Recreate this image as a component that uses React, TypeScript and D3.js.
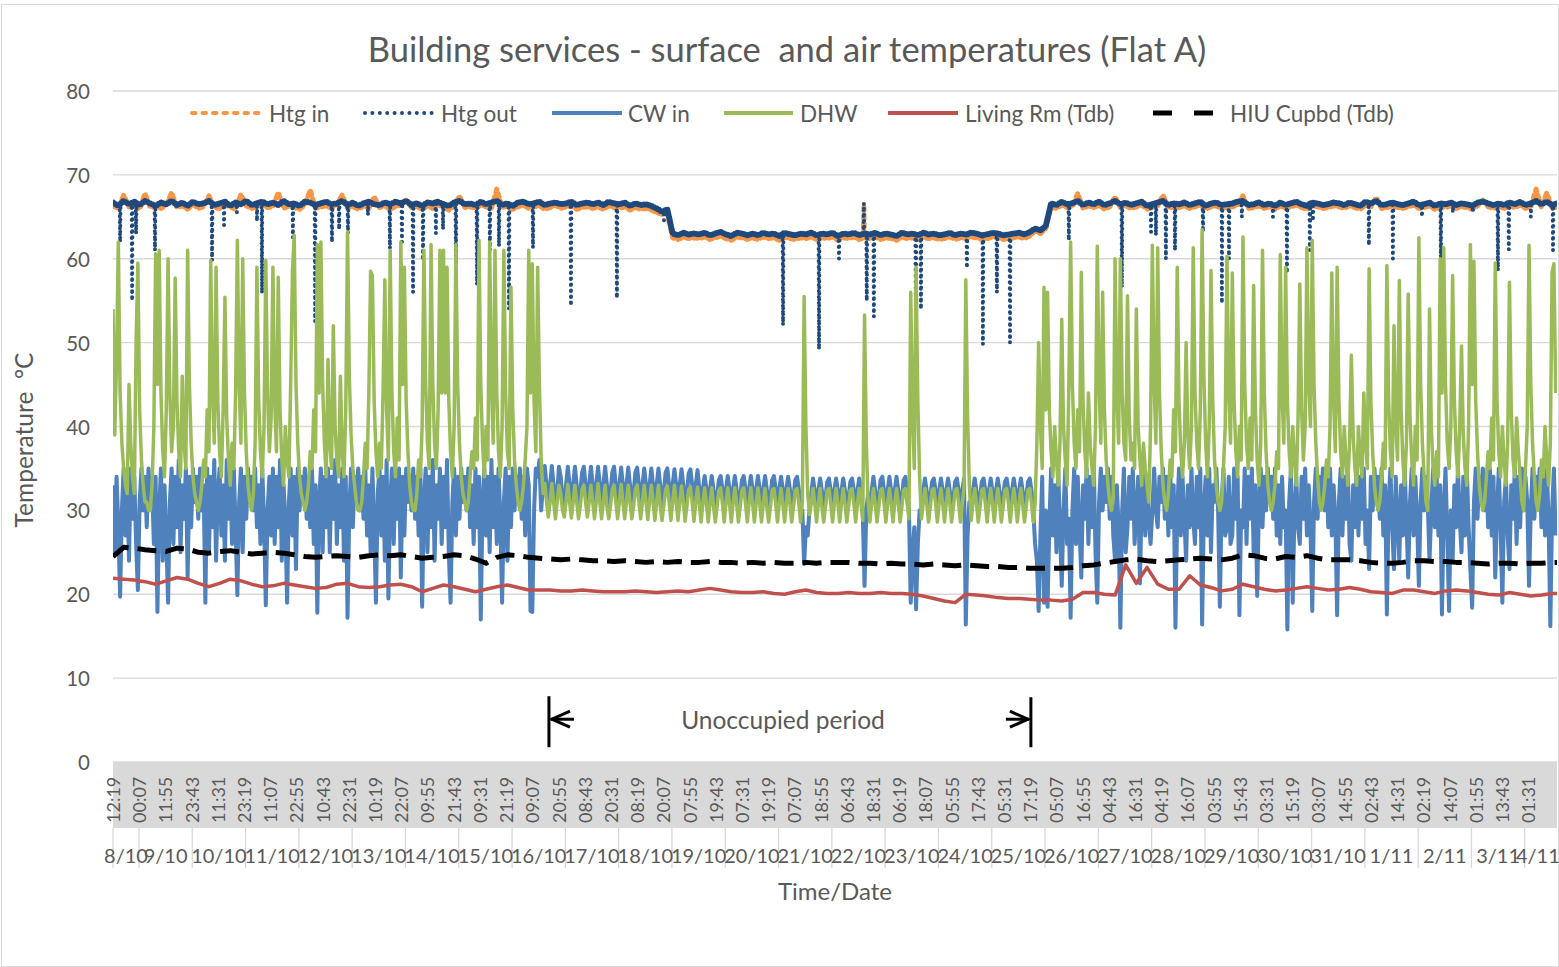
import React from 'react';
import * as d3 from 'd3';

// ---------- layout constants ----------
const W = 1559;
const H = 967;
const PLOT_LEFT = 113;
const PLOT_RIGHT = 1557;
const PLOT_TOP = 91;
const PLOT_BOTTOM = 762;

// ---------- time axis (hours after 8/10 12:19) ----------
const HOURS_SPAN = 650.2;
const FAST_STEP = 0.8; // CW in, DHW sample step (h)
const HTG_STEP = 2.4; // heating flow/return sample step (h)
const ROOM_STEP = 4.8; // air temperature sample step (h)
const TIME_LABEL_STEP = 11.8;
const FIRST_MIDNIGHT = 11.683;

const timeLabels = [
  '12:19', '00:07', '11:55', '23:43', '11:31', '23:19', '11:07', '22:55', '10:43', '22:31',
  '10:19', '22:07', '09:55', '21:43', '09:31', '21:19', '09:07', '20:55', '08:43', '20:31',
  '08:19', '20:07', '07:55', '19:43', '07:31', '19:19', '07:07', '18:55', '06:43', '18:31',
  '06:19', '18:07', '05:55', '17:43', '05:31', '17:19', '05:07', '16:55', '04:43', '16:31',
  '04:19', '16:07', '03:55', '15:43', '03:31', '15:19', '03:07', '14:55', '02:43', '14:31',
  '02:19', '14:07', '01:55', '13:43', '01:31',
];

const dateLabels = [
  '8/10', '9/10', '10/10', '11/10', '12/10', '13/10', '14/10', '15/10', '16/10', '17/10',
  '18/10', '19/10', '20/10', '21/10', '22/10', '23/10', '24/10', '25/10', '26/10', '27/10',
  '28/10', '29/10', '30/10', '31/10', '1/11', '2/11', '3/11', '4/11',
];

const yTicks = [0, 10, 20, 30, 40, 50, 60, 70, 80];

// ---------- series ----------
const htgIn = [
  66.3, 66.0, 67.6, 66.2, 66.4, 65.9, 67.8, 66.1, 66.3, 66.0,
  66.4, 67.9, 66.1, 66.3, 65.9, 66.5, 66.0, 66.2, 67.5, 66.1,
  66.0, 66.4, 66.2, 65.9, 67.7, 66.3, 66.0, 66.2, 66.5, 66.1,
  66.2, 67.9, 66.0, 66.3, 66.1, 65.9, 66.4, 68.2, 66.0, 66.2,
  66.3, 66.0, 66.5, 67.6, 66.1, 66.2, 65.9, 66.3, 66.0, 67.4,
  66.1, 66.3, 65.9, 66.2, 66.4, 67.0, 66.1, 66.2, 65.9, 66.3,
  66.0, 66.4, 66.2, 65.8, 66.3, 67.5, 66.1, 66.2, 66.0, 66.4,
  66.2, 66.0, 68.3, 66.1, 66.3, 65.9, 66.2, 66.4, 66.0, 66.2,
  66.3, 65.9, 66.1, 66.4, 66.0, 66.2, 66.3, 65.9, 66.1, 66.2,
  66.0, 66.2, 65.9, 66.3, 66.1, 66.0, 66.2, 65.8, 66.1, 65.9,
  66.0, 65.8, 65.5, 65.3, 65.4, 62.5, 62.3, 62.6, 62.4, 62.5,
  62.4, 62.6, 62.3, 62.5, 62.7, 62.4, 62.2, 62.6, 62.5, 62.3,
  62.5, 62.3, 62.6, 62.4, 62.5, 62.2, 62.6, 62.4, 62.3, 62.5,
  62.4, 62.6, 62.3, 62.5, 62.4, 62.6, 62.2, 62.5, 62.4, 62.6,
  62.3, 62.5, 62.4, 62.6, 62.3, 62.5, 62.4, 62.2, 62.6, 62.4,
  62.5, 62.3, 62.6, 62.4, 62.5, 62.3, 62.4, 62.6, 62.3, 62.5,
  62.4, 62.6, 62.5, 62.3, 62.4, 62.6, 62.5, 62.3, 62.4, 62.5,
  62.6, 62.4, 62.7, 63.3, 63.0, 63.6, 66.2, 66.0, 66.4, 66.1,
  66.2, 67.8, 66.0, 66.3, 66.1, 66.4, 65.9, 66.2, 67.4, 66.1,
  66.3, 66.0, 66.2, 66.4, 65.9, 66.1, 66.3, 67.6, 66.0, 66.2,
  66.1, 66.3, 66.0, 66.2, 66.4, 65.9, 66.2, 66.3, 66.0, 66.1,
  66.2, 66.4, 67.5, 66.0, 66.1, 66.3, 66.0, 66.2, 65.9, 66.3,
  66.0, 66.2, 66.4, 66.1, 65.9, 66.3, 66.2, 66.0, 66.1, 66.3,
  66.2, 66.0, 66.3, 66.1, 65.9, 66.4, 66.2, 67.3, 66.0, 66.1,
  66.3, 66.1, 66.0, 66.2, 66.4, 66.0, 66.1, 66.3, 65.9, 66.2,
  66.1, 66.3, 66.0, 66.2, 66.1, 65.9, 66.3, 67.0, 66.2, 66.0,
  66.2, 66.0, 66.3, 66.1, 66.4, 66.0, 66.2, 68.3, 66.1, 67.9,
  66.0, 66.2,
];
const htgInExcursions: [number, number][] = [[338.1, 66.4]];

const htgOut = [
  66.7, 66.3, 66.9, 66.5, 66.8, 66.4, 66.9, 66.6, 66.3, 66.7,
  66.5, 66.9, 66.4, 66.7, 66.3, 66.8, 66.5, 66.6, 66.9, 66.4,
  66.6, 66.8, 66.3, 66.7, 66.5, 66.9, 66.4, 66.6, 66.8, 66.5,
  66.7, 66.4, 66.9, 66.5, 66.6, 66.3, 66.8, 66.7, 66.4, 66.6,
  66.8, 66.5, 66.6, 66.9, 66.4, 66.7, 66.3, 66.6, 66.8, 66.5,
  66.4, 66.7, 66.5, 66.8, 66.6, 66.9, 66.4, 66.6, 66.3, 66.7,
  66.6, 66.8, 66.5, 66.3, 66.7, 66.9, 66.5, 66.6, 66.4, 66.8,
  66.5, 66.7, 66.9, 66.4, 66.6, 66.3, 66.7, 66.8, 66.5, 66.6,
  66.8, 66.4, 66.6, 66.7, 66.5, 66.6, 66.8, 66.4, 66.6, 66.7,
  66.5, 66.7, 66.4, 66.8, 66.6, 66.5, 66.7, 66.3, 66.6, 66.4,
  66.5, 66.3, 66.0, 65.6, 65.9, 63.0, 62.8, 63.1, 62.9, 63.0,
  62.9, 63.1, 62.8, 63.0, 63.2, 62.9, 62.7, 63.1, 63.0, 62.8,
  63.0, 62.8, 63.1, 62.9, 63.0, 62.7, 63.1, 62.9, 62.8, 63.0,
  62.9, 63.1, 62.8, 63.0, 62.9, 63.1, 62.7, 63.0, 62.9, 63.1,
  62.8, 63.0, 62.9, 63.1, 62.8, 63.0, 62.9, 62.7, 63.1, 62.9,
  63.0, 62.8, 63.1, 62.9, 63.0, 62.8, 62.9, 63.1, 62.8, 63.0,
  62.9, 63.1, 63.0, 62.8, 62.9, 63.1, 63.0, 62.8, 62.9, 63.0,
  63.1, 62.9, 63.2, 63.6, 63.4, 63.9, 66.6, 66.4, 66.8, 66.5,
  66.6, 66.9, 66.4, 66.7, 66.5, 66.8, 66.4, 66.6, 66.9, 66.5,
  66.7, 66.4, 66.6, 66.8, 66.3, 66.5, 66.7, 66.9, 66.4, 66.6,
  66.5, 66.7, 66.4, 66.6, 66.8, 66.3, 66.6, 66.7, 66.4, 66.5,
  66.6, 66.8, 66.9, 66.4, 66.5, 66.7, 66.4, 66.6, 66.3, 66.7,
  66.4, 66.6, 66.8, 66.5, 66.3, 66.7, 66.6, 66.4, 66.5, 66.7,
  66.6, 66.4, 66.7, 66.5, 66.3, 66.8, 66.6, 66.9, 66.4, 66.5,
  66.7, 66.5, 66.4, 66.6, 66.8, 66.4, 66.5, 66.7, 66.3, 66.6,
  66.5, 66.7, 66.4, 66.6, 66.5, 66.3, 66.7, 66.8, 66.6, 66.4,
  66.6, 66.4, 66.7, 66.5, 66.8, 66.4, 66.6, 66.9, 66.5, 66.8,
  66.4, 66.6,
];
// [hour, temperature] of the brief return-temperature excursions
const htgOutExcursions: [number, number][] = [
  [3.2, 62.0], [8.6, 55.0], [10.4, 63.0], [18.9, 61.0], [44.6, 59.8], [50.0, 64.0],
  [55.8, 65.5], [64.8, 64.5], [67.1, 55.9], [81.0, 62.5], [91.0, 52.5], [98.6, 62.0],
  [101.8, 63.5], [105.8, 63.0], [114.8, 65.2], [124.7, 61.2], [130.1, 62.0], [135.1, 56.0],
  [139.6, 59.8], [145.4, 63.0], [148.6, 63.5], [154.4, 59.5], [163.9, 56.9], [169.7, 61.0],
  [173.8, 61.5], [178.3, 54.0], [189.1, 61.3], [206.2, 54.4], [226.9, 55.3], [248.1, 64.6],
  [301.7, 52.1], [317.9, 49.2], [326.9, 60.0], [338.1, 66.6], [339.4, 55.0], [342.6, 53.1],
  [361.5, 53.3], [363.8, 54.0], [384.5, 58.9], [391.7, 49.8], [398.0, 56.0], [403.9, 50.0],
  [430.4, 62.2], [454.3, 56.6], [467.4, 63.2], [469.6, 62.8], [474.1, 60.0], [478.2, 61.0],
  [490.8, 63.2], [499.3, 54.7], [502.5, 60.0], [508.3, 65.0], [522.3, 65.0], [528.6, 58.3],
  [538.9, 61.0], [540.3, 64.5], [565.5, 61.6], [576.3, 60.0], [589.4, 65.0], [597.9, 59.5],
  [603.3, 65.5], [612.3, 65.5], [623.6, 58.6], [628.5, 61.1], [638.4, 65.0], [648.4, 61.0],
];

const cwIn = [
  33, 25, 34, 28, 19.7, 30, 35, 27, 33, 24, 35, 29, 34, 26, 20.5, 31, 35, 30, 34, 28, 35, 31, 33, 26, 34, 17.9, 30, 35, 24, 33,
  27, 19, 31, 35, 26, 34, 28, 36, 25, 33, 29, 35, 22, 34, 28, 35, 31, 34, 29, 35, 30, 33, 19, 35, 25, 34, 28, 36, 24, 32,
  35, 27, 33, 24, 36, 29, 34, 26, 35, 28, 19.9, 31, 35, 25, 34, 29, 35, 31, 34, 30, 35, 28, 33, 26, 35, 29, 18.7, 30, 34, 27,
  35, 26, 34, 28, 36, 24, 33, 29, 19, 31, 35, 27, 34, 23, 35, 30, 34, 31, 35, 29, 34, 28, 35, 26, 33, 17.8, 31, 35, 25, 34,
  28, 35, 25, 34, 29, 36, 26, 33, 28, 35, 24, 34, 17.2, 30, 35, 28, 34, 31, 35, 30, 34, 29, 35, 27, 33, 25, 35, 28, 19, 32,
  35, 27, 34, 24, 36, 19.5, 31, 35, 26, 34, 29, 35, 22, 34, 27, 35, 31, 34, 30, 35, 29, 34, 27, 35, 18.5, 31, 35, 25, 34, 28,
  36, 24, 33, 29, 35, 26, 34, 28, 36, 25, 19, 31, 35, 27, 34, 29, 35, 31, 34, 30, 35, 28, 33, 26, 35, 28, 34, 17, 31, 35,
  27, 34, 25, 36, 28, 34, 26, 35, 29, 19, 31, 35, 24, 34, 28, 35, 30, 34, 31, 35, 29, 34, 27, 35, 33, 18, 17.9, 30, 35, 34,
  36, 30, 33, 35.3, 33, 30, 33, 35.3, 33, 30, 32, 35.2, 34, 31.5, 30, 33, 35.2, 33, 30, 33, 35.2, 33, 30, 32, 34.5, 35.2, 33, 30, 33, 35.2,
  33, 30, 33, 35.2, 33, 30, 33, 35.2, 33, 30, 32, 34.5, 35.2, 33, 30, 33, 35.1, 33, 30, 33, 35.1, 33, 30, 32, 34.5, 35.1, 33, 30, 33, 35,
  33, 30, 33, 35, 33, 30, 33, 35, 33, 30, 32, 34.5, 35, 33, 30, 33, 34.9, 33, 30, 33, 34.9, 33, 30, 32, 34.4, 34.9, 33, 30, 33, 34.8,
  32.5, 29.8, 32.5, 34.1, 32.5, 29.8, 32.5, 34.1, 32.5, 29.8, 31.5, 33.6, 34.1, 32.5, 29.8, 32.5, 34.1, 32.5, 29.8, 32.5, 34.1, 32.5, 29.8, 31.5, 33.6, 34.1, 32.5, 29.8, 32.5, 34.1,
  32.5, 29.8, 32.5, 34.1, 32.5, 29.8, 32.5, 34.1, 32.5, 29.8, 31.5, 33.6, 34.1, 32.5, 29.8, 32.5, 34, 32.5, 29.8, 32.5, 34, 32.5, 29.8, 31.5, 33.6, 34, 32.5, 29.8, 30, 23.6,
  28, 27, 30, 32, 33.8, 32.3, 29.8, 32.3, 33.8, 32.3, 29.8, 31.5, 33.4, 33.8, 32.3, 29.8, 32.3, 33.8, 32.3, 29.8, 32.3, 33.8, 32.3, 29.8, 31.5, 33.4, 33.8, 32.3, 29.8, 32.3,
  33.8, 32.3, 29.8, 21, 30, 32, 29.8, 32.3, 34, 32.3, 29.8, 31.5, 33.6, 34, 32.3, 29.8, 32.3, 34, 32.3, 29.8, 32.3, 34, 32.3, 29.8, 31.5, 33.6, 34, 32.3, 30, 19,
  25, 28, 18.2, 26, 30, 29.8, 32.3, 33.8, 32.3, 29.8, 31.5, 33.4, 33.8, 32.3, 29.8, 32.3, 33.8, 32.3, 29.8, 32.3, 33.8, 32.3, 29.8, 31.5, 33.4, 33.8, 32.3, 29.8, 32.3, 33.8,
  16.4, 27, 31, 29.8, 32.3, 33.8, 32.3, 29.8, 31.5, 33.4, 33.8, 32.3, 29.8, 32.3, 33.8, 32.3, 29.8, 32.3, 33.8, 32.3, 29.8, 31.5, 33.4, 33.8, 32.3, 29.8, 32.3, 33.8, 32.3, 29.8,
  32.3, 33.8, 32.3, 29.8, 31.5, 33.4, 33.8, 32.3, 29.8, 26, 24, 18, 27, 34, 19, 30, 18.5, 28, 35, 27, 33, 25, 35, 28, 21, 30, 35, 26, 29, 17.2,
  30, 35, 26, 34, 28, 22, 33, 29, 35, 26, 34, 28, 36, 25, 19, 31, 35, 30, 34, 31, 35, 29, 34, 27, 24, 33, 28, 16, 30, 35,
  25, 28, 34, 29, 35, 26, 30, 34, 21.3, 31, 35, 27, 34, 29, 26, 30, 35, 30, 28, 34, 31, 35, 29, 34, 27, 35, 28, 33, 16, 30,
  35, 27, 34, 29, 24, 33, 28, 35, 29, 26, 34, 28, 35, 16.4, 30, 34, 27, 35, 25, 33, 31, 35, 30, 18.5, 31, 35, 27, 28, 34, 26,
  27, 35, 29, 34, 17.5, 30, 28, 35, 26, 34, 29, 35, 25, 33, 19.8, 31, 35, 28, 34, 30, 35, 31, 34, 29, 35, 27, 33, 26, 34, 28,
  30, 15.8, 31, 35, 19, 30, 34, 28, 26, 34, 29, 35, 27, 33, 28, 18, 31, 35, 29, 34, 31, 35, 30, 34, 28, 35, 27, 33, 29, 17.5,
  31, 35, 27, 34, 29, 35, 26, 24, 33, 28, 35, 27, 34, 29, 35, 26, 30, 23, 34, 30, 35, 31, 34, 29, 35, 27, 33, 17.6, 31, 35,
  28, 23, 34, 29, 24, 33, 27, 35, 29, 22, 31, 35, 27, 34, 29, 21, 31, 35, 30, 34, 31, 24, 30, 35, 28, 34, 27, 33, 17.6, 30,
  35, 27, 18, 30, 24, 33, 28, 35, 29, 25, 34, 27, 35, 28, 23, 18.4, 31, 35, 29, 34, 31, 35, 30, 34, 28, 35, 27, 34, 22, 30,
  35, 28, 19, 31, 34, 27, 23, 33, 29, 35, 26, 34, 28, 35, 30, 34, 31, 21, 30, 35, 29, 34, 31, 35, 28, 34, 27, 35, 29, 16.2,
  30, 35, 27,
];

const dhw = [
  54, 39, 48, 62, 44, 38, 35, 33, 32, 45, 38, 34, 32, 50, 59.5, 42, 36, 33, 31, 31, 30, 30, 33, 40, 60.6, 45, 61, 44, 37, 34,
  42, 60, 44, 37, 40, 57.7, 43, 37, 34, 46, 38, 35, 61, 45, 38, 34, 32, 31, 30, 31, 33, 36, 34, 42, 37, 59.8, 44, 38, 59, 43,
  37, 34, 42, 55.4, 41, 36, 33, 38, 35, 44, 62.2, 45, 38, 60, 44, 37, 33, 31, 30, 32, 38, 59, 43, 37, 34, 40, 59.8, 44, 37, 41,
  59, 43, 37, 57.8, 42, 36, 33, 40, 36, 34, 45, 58.5, 62.8, 45, 38, 34, 32, 31, 30, 31, 33, 37, 35, 42, 37, 61.7, 44, 62, 45, 38,
  34, 48, 38, 35, 52, 40, 36, 34, 46, 37, 34, 42, 63.2, 46, 39, 35, 33, 31, 30, 30, 31, 34, 38, 35, 44, 58.5, 58, 43, 37, 34,
  38, 35, 44, 57.5, 42, 36, 61, 44, 37, 34, 41, 36, 62, 45, 59, 43, 37, 33, 31, 30, 30, 32, 36, 34, 40, 61, 45, 38, 35, 61.7,
  45, 38, 35, 42, 61, 44, 61, 44, 59, 43, 37, 34, 40, 61.7, 45, 38, 34, 32, 31, 30, 31, 34, 37, 35, 41, 36, 62.2, 45, 38, 34,
  40, 36, 62, 45, 38, 61, 44, 37, 34, 40, 61, 44, 37, 35, 56.6, 42, 36, 33, 31, 30, 31, 33, 36, 40, 61, 44, 59.4, 43, 37, 59,
  45, 36, 32, 33.2, 31, 29.2, 31, 33.2, 31, 29, 31, 33, 32, 30, 29.2, 31, 33.1, 31, 29.1, 31, 33, 31, 29, 30.5, 32.5, 33, 31, 29.2, 31, 33,
  31, 29, 31, 33.2, 31, 29, 31, 33, 30.5, 29, 30.5, 32.5, 33, 31, 29, 31, 33.1, 31, 29, 31, 33, 31, 29, 30.5, 32.5, 33, 31, 29, 31, 33,
  31, 28.9, 31, 33, 31, 28.8, 31, 33, 30.5, 28.8, 30.5, 32.5, 32.9, 31, 28.8, 31, 33, 31, 28.8, 31, 32.9, 31, 28.7, 30.5, 32.5, 32.8, 31, 28.7, 31, 32.8,
  30.8, 28.6, 30.8, 32.7, 30.8, 28.6, 30.8, 32.7, 30.5, 28.6, 30.4, 32.4, 32.7, 30.8, 28.6, 30.8, 32.7, 30.8, 28.6, 30.8, 32.7, 30.8, 28.6, 30.4, 32.4, 32.7, 30.8, 28.6, 30.8, 32.7,
  30.8, 28.6, 30.8, 32.7, 30.8, 28.6, 30.8, 32.6, 30.4, 28.6, 30.4, 32.4, 32.6, 30.8, 28.6, 30.8, 32.6, 30.8, 28.6, 30.8, 32.6, 30.8, 28.6, 30.4, 32.4, 32.6, 30.8, 28.6, 31, 55.5,
  40, 32, 29.5, 30.8, 32.6, 30.8, 28.6, 30.8, 32.6, 30.4, 28.6, 30.4, 32.4, 32.6, 30.8, 28.6, 30.8, 32.6, 30.8, 28.6, 30.8, 32.6, 30.8, 28.6, 30.4, 32.4, 32.6, 30.8, 28.6, 30.8,
  32.6, 30.8, 28.8, 53.3, 38, 31, 28.6, 30.8, 32.6, 30.8, 28.6, 30.4, 32.4, 32.6, 30.8, 28.6, 30.8, 32.6, 30.8, 28.6, 30.8, 32.6, 30.8, 28.6, 30.4, 32.4, 32.6, 30.8, 29, 56,
  42, 35, 59, 43, 34, 29, 30.8, 32.6, 30.8, 28.6, 30.4, 32.4, 32.6, 30.8, 28.6, 30.8, 32.6, 30.8, 28.6, 30.8, 32.6, 30.8, 28.6, 30.4, 32.4, 32.6, 30.8, 28.6, 30.8, 32.6,
  57.5, 41, 33, 28.8, 30.8, 32.6, 30.8, 28.6, 30.4, 32.4, 32.6, 30.8, 28.6, 30.8, 32.6, 30.8, 28.6, 30.8, 32.6, 30.8, 28.6, 30.4, 32.4, 32.6, 30.8, 28.6, 30.8, 32.6, 30.8, 28.6,
  30.8, 32.6, 30.8, 28.6, 30.4, 32.4, 32.6, 30.8, 28.6, 30.8, 38, 50, 40, 35, 56.6, 42, 56, 42, 37, 34, 40, 36, 33, 38, 52.8, 40, 36, 33, 45, 62,
  45, 38, 35, 42, 37, 58.4, 43, 37, 34, 44, 38, 35, 33, 40, 61.5, 45, 38, 56, 42, 36, 33, 31, 30, 32, 60, 44, 38, 60, 44, 38,
  36, 55.6, 41, 36, 38, 35, 54, 40, 36, 33, 38, 35, 33, 31, 40, 61.6, 45, 38, 61.3, 44, 37, 33, 31, 30, 32, 36, 34, 42, 37, 59,
  43, 37, 34, 38, 50, 39, 35, 40, 61.3, 44, 38, 35, 42, 63.5, 46, 38, 34, 40, 58.6, 43, 36, 33, 31, 30, 31, 35, 40, 60.3, 44, 38,
  58.3, 43, 37, 34, 40, 36, 62.6, 45, 38, 35, 41, 36, 56.8, 42, 36, 33, 38, 61, 44, 37, 33, 31, 30, 31, 33, 37, 35, 60.5, 44, 38,
  59, 43, 37, 34, 40, 36, 33, 41, 57, 42, 36, 40, 61.3, 45, 40, 62.2, 45, 38, 34, 31, 30, 31, 33, 36, 34, 40, 58.3, 43, 37, 59,
  43, 37, 34, 40, 36, 33, 38, 48.5, 39, 35, 33, 40, 36, 34, 44, 38, 35, 58.8, 43, 37, 33, 31, 30, 31, 34, 38, 35, 59.2, 43, 37,
  34, 52, 40, 36, 57.4, 42, 36, 33, 38, 55.8, 41, 36, 33, 40, 36, 62.5, 45, 38, 34, 31, 30, 54, 40, 35, 33, 37, 34, 60, 44, 61.3,
  45, 38, 35, 40, 58, 43, 37, 34, 40, 49.6, 39, 35, 33, 40, 61.7, 45, 59.7, 43, 37, 33, 31, 30, 31, 34, 37, 35, 41, 36, 59.5, 43,
  37, 34, 40, 36, 33, 38, 57.2, 42, 36, 34, 41, 37, 34, 31, 30, 35, 40, 61.6, 45, 38, 34, 31, 30, 32, 36, 34, 40, 36, 33, 38,
  58.4, 59.4, 44,
];

const livingRm = [
  21.9, 21.8, 21.7, 21.5, 21.2, 21.6, 22.0, 21.8, 21.3, 20.9,
  21.3, 21.8, 21.6, 21.2, 20.9, 21.0, 21.3, 21.1, 20.9, 20.7,
  20.8, 21.2, 21.3, 20.9, 20.8, 20.9, 21.1, 21.2, 20.9, 20.3,
  20.7, 21.1, 20.9, 20.6, 20.3, 20.6, 20.9, 21.1, 20.8, 20.5,
  20.5, 20.5, 20.4, 20.4, 20.5, 20.4, 20.3, 20.3, 20.3, 20.4,
  20.3, 20.2, 20.3, 20.4, 20.3, 20.5, 20.7, 20.5, 20.3, 20.2,
  20.2, 20.3, 20.1, 20.0, 20.3, 20.5, 20.2, 20.1, 20.1, 20.2,
  20.1, 20.1, 20.2, 20.1, 20.1, 20.0, 19.8, 19.5, 19.2, 19.0,
  20.0, 19.9, 19.8, 19.6, 19.5, 19.5, 19.4, 19.3, 19.3, 19.2,
  19.4, 20.2, 20.2, 20.0, 19.9, 23.5, 21.3, 23.2, 21.2, 20.6,
  20.6, 22.2, 21.1, 20.8, 20.4, 20.6, 21.2, 20.9, 20.6, 20.4,
  20.5, 20.7, 20.9, 20.7, 20.5, 20.6, 20.8, 20.6, 20.3, 20.2,
  20.1, 20.5, 20.5, 20.3, 20.1, 20.4, 20.5, 20.4, 20.2, 20.0,
  19.9, 20.2, 20.0, 19.8, 19.9, 20.1, 20.1,
];

const hiuCupbd = [
  24.5, 25.6, 25.5, 25.3, 25.2, 25.1, 25.5, 25.4, 25.0, 24.9,
  25.1, 25.2, 25.0, 24.8, 24.9, 25.0, 24.9, 24.7, 24.5, 24.4,
  24.5, 24.6, 24.5, 24.4, 24.6, 24.7, 24.6, 24.7, 24.5, 24.3,
  24.4, 24.5, 24.7, 24.6, 24.2, 23.7, 24.4, 24.7, 24.6, 24.4,
  24.3, 24.2, 24.1, 24.2, 24.1, 24.0, 24.0, 23.9, 24.0, 23.9,
  23.8, 23.9, 23.8, 23.9, 23.8, 23.8, 23.9, 23.8, 23.8, 23.7,
  23.8, 23.7, 23.8, 23.7, 23.7, 23.8, 23.7, 23.8, 23.8, 23.8,
  23.7, 23.7, 23.6, 23.7, 23.6, 23.6, 23.5, 23.6, 23.5, 23.4,
  23.5, 23.4, 23.3, 23.3, 23.2, 23.2, 23.1, 23.1, 23.1, 23.1,
  23.2, 23.4, 23.5, 23.7, 23.9, 24.1, 24.2, 24.0, 23.9, 24.0,
  24.1, 24.2, 24.3, 24.2, 24.1, 24.3, 24.7, 24.6, 24.3, 24.2,
  24.5, 24.4, 24.6, 24.3, 24.1, 24.1, 24.1, 24.0, 23.8, 23.7,
  23.7, 23.8, 24.0, 24.0, 23.9, 23.9, 23.8, 23.8, 23.7, 23.6,
  23.7, 23.7, 23.6, 23.7, 23.7, 23.8, 23.8,
];

// annotation (hours)
const unoccupiedStart = 196.3;
const unoccupiedEnd = 413.3;

// ---------- styles ----------
const TEXT = '#595959';
const GRID = '#d9d9d9';
const FONT = 'Lato, "Noto Sans", sans-serif';

type Pt = [number, number];

const stepped = (vals: number[], step: number): Pt[] => vals.map((v, i) => [i * step, v] as Pt);

const withExcursions = (vals: number[], step: number, exc: [number, number][]): Pt[] => {
  const pts = stepped(vals, step);
  exc.forEach(([h, v]) => {
    const b = vals[Math.min(vals.length - 1, Math.round(h / step))];
    pts.push([h - 0.2, b], [h, v], [h + 0.2, b]);
  });
  pts.sort((a, b) => a[0] - b[0]);
  return pts;
};

interface Layer {
  pts: Pt[];
  width: number;
  dash?: string;
  cap: string;
}
interface Series {
  name: string;
  color: string;
  layers: Layer[];
  legend: { x1: number; x2: number; tx: number; dash?: string; w: number; cap: string };
}

export default function App() {
  const x = d3.scaleLinear().domain([0, HOURS_SPAN]).range([PLOT_LEFT, PLOT_RIGHT]);
  const y = d3.scaleLinear().domain([0, 80]).range([PLOT_BOTTOM, PLOT_TOP]);
  const line = d3
    .line<Pt>()
    .x((d) => x(d[0]))
    .y((d) => y(d[1]));

  const series: Series[] = [
    {
      name: 'Htg in',
      color: '#F79646',
      layers: [{ pts: withExcursions(htgIn, HTG_STEP, htgInExcursions), width: 5, dash: '4 4', cap: 'round' }],
      legend: { x1: 192, x2: 262, tx: 269, dash: '3.5 7', w: 4, cap: 'round' },
    },
    {
      name: 'Htg out',
      color: '#1F497D',
      layers: [
        { pts: stepped(htgOut, HTG_STEP), width: 6, dash: '0 2.6', cap: 'round' },
        { pts: withExcursions(htgOut, HTG_STEP, htgOutExcursions), width: 4, dash: '0 6', cap: 'round' },
      ],
      legend: { x1: 365, x2: 433, tx: 441, dash: '0 7.4', w: 4, cap: 'round' },
    },
    {
      name: 'CW in',
      color: '#4F81BD',
      layers: [{ pts: stepped(cwIn, FAST_STEP), width: 4, cap: 'butt' }],
      legend: { x1: 552, x2: 622, tx: 628, w: 4, cap: 'butt' },
    },
    {
      name: 'DHW',
      color: '#9BBB59',
      layers: [{ pts: stepped(dhw, FAST_STEP), width: 3.5, cap: 'butt' }],
      legend: { x1: 724, x2: 793, tx: 800, w: 4, cap: 'butt' },
    },
    {
      name: 'Living Rm (Tdb)',
      color: '#C0504D',
      layers: [{ pts: stepped(livingRm, ROOM_STEP), width: 3.5, cap: 'butt' }],
      legend: { x1: 888, x2: 958, tx: 965, w: 4, cap: 'butt' },
    },
    {
      name: 'HIU Cupbd (Tdb)',
      color: '#000000',
      layers: [{ pts: stepped(hiuCupbd, ROOM_STEP), width: 5, dash: '19 9', cap: 'butt' }],
      legend: { x1: 1153, x2: 1213, tx: 1230, dash: '19 22', w: 5, cap: 'butt' },
    },
  ];

  const midnights = dateLabels.map((_, i) => (i === 0 ? 0 : FIRST_MIDNIGHT + 24 * (i - 1)));
  const legendY = 113;
  const annY = y(5.1);

  return (
    <svg
      width={W}
      height={H}
      style={{ position: 'absolute', left: 0, top: 0, background: '#fff', fontFamily: FONT }}
    >
      <defs>
        <clipPath id="plotClip">
          <rect x={PLOT_LEFT} y={PLOT_TOP - 10} width={PLOT_RIGHT - PLOT_LEFT} height={PLOT_BOTTOM - PLOT_TOP + 10} />
        </clipPath>
      </defs>
      <rect x={0} y={0} width={W} height={H} fill="#fff" />
      <rect x={1.5} y={4.5} width={W - 2} height={H - 5} fill="none" stroke={GRID} strokeWidth={1} />

      {/* title */}
      <text x={787} y={48} textAnchor="middle" dominantBaseline="central" fontSize={34.5} fill={TEXT} style={{ whiteSpace: 'pre' }}>
        {'Building services - surface  and air temperatures (Flat A)'}
      </text>

      {/* gridlines + y tick labels */}
      {yTicks.map((t) => (
        <g key={t}>
          <line x1={PLOT_LEFT} x2={PLOT_RIGHT} y1={y(t)} y2={y(t)} stroke={GRID} strokeWidth={1.3} />
          <text x={90} y={y(t)} textAnchor="end" dominantBaseline="central" fontSize={20.5} fill={TEXT}>
            {t}
          </text>
        </g>
      ))}

      {/* category band */}
      <rect x={PLOT_LEFT} y={PLOT_BOTTOM} width={PLOT_RIGHT - PLOT_LEFT} height={66} fill={GRID} />
      {timeLabels.map((lab, i) => (
        <text
          key={lab + i}
          transform={`translate(${x(i * TIME_LABEL_STEP)},823) rotate(-90)`}
          textAnchor="start"
          dominantBaseline="central"
          fontSize={18}
          fill={TEXT}
        >
          {lab}
        </text>
      ))}
      {midnights.map((m, i) => (
        <line key={'sep' + i} x1={x(m)} x2={x(m)} y1={828} y2={868} stroke={GRID} strokeWidth={1.3} />
      ))}
      {dateLabels.map((lab, i) => {
        const a = midnights[i];
        const b = i + 1 < midnights.length ? midnights[i + 1] : HOURS_SPAN;
        const c = Math.min((Math.max(0, a) + Math.min(HOURS_SPAN, b)) / 2, HOURS_SPAN - 8.6);
        return (
          <text key={lab} x={x(c)} y={855} textAnchor="middle" dominantBaseline="central" fontSize={20} fill={TEXT}>
            {lab}
          </text>
        );
      })}

      {/* axis titles */}
      <text x={835} y={890} textAnchor="middle" dominantBaseline="central" fontSize={24} fill={TEXT}>
        Time/Date
      </text>
      <text
        transform="translate(23,440) rotate(-90)"
        textAnchor="middle"
        dominantBaseline="central"
        fontSize={24.5}
        fill={TEXT}
        style={{ whiteSpace: 'pre' }}
      >
        {'Temperature  °C'}
      </text>

      {/* series */}
      <g clipPath="url(#plotClip)">
        {series.map((s) =>
          s.layers.map((l, li) => (
            <path
              key={s.name + li}
              d={line(l.pts) || ''}
              fill="none"
              stroke={s.color}
              strokeWidth={l.width}
              strokeDasharray={l.dash}
              strokeLinecap={l.cap as any}
              strokeLinejoin="round"
            />
          )),
        )}
      </g>

      {/* legend */}
      {series.map((s) => (
        <g key={'lg' + s.name}>
          <line
            x1={s.legend.x1}
            x2={s.legend.x2}
            y1={legendY}
            y2={legendY}
            stroke={s.color}
            strokeWidth={s.legend.w}
            strokeDasharray={s.legend.dash}
            strokeLinecap={s.legend.cap as any}
          />
          <text x={s.legend.tx} y={legendY} dominantBaseline="central" fontSize={22.5} fill={TEXT}>
            {s.name}
          </text>
        </g>
      ))}

      {/* unoccupied period annotation */}
      <g stroke="#000" strokeWidth={3} fill="none">
        <line x1={x(unoccupiedStart)} x2={x(unoccupiedStart)} y1={annY - 23} y2={annY + 28} />
        <line x1={x(unoccupiedStart) + 2} x2={x(unoccupiedStart) + 25} y1={annY} y2={annY} />
        <polyline
          points={`${x(unoccupiedStart) + 21},${annY - 8} ${x(unoccupiedStart) + 3},${annY} ${x(unoccupiedStart) + 21},${annY + 8}`}
        />
        <line x1={x(unoccupiedEnd)} x2={x(unoccupiedEnd)} y1={annY - 22} y2={annY + 28} />
        <line x1={x(unoccupiedEnd) - 25} x2={x(unoccupiedEnd) - 2} y1={annY} y2={annY} />
        <polyline
          points={`${x(unoccupiedEnd) - 21},${annY - 8} ${x(unoccupiedEnd) - 3},${annY} ${x(unoccupiedEnd) - 21},${annY + 8}`}
        />
      </g>
      <text x={783} y={annY} textAnchor="middle" dominantBaseline="central" fontSize={24.5} fill={TEXT}>
        Unoccupied period
      </text>
    </svg>
  );
}
